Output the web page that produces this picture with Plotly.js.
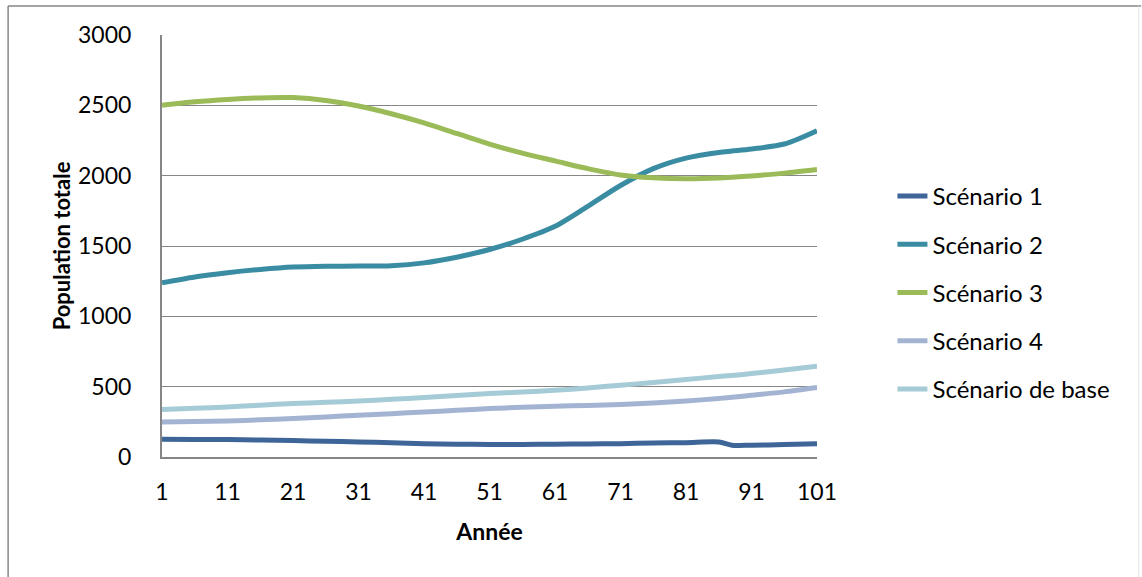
<!DOCTYPE html>
<html>
<head>
<meta charset="utf-8">
<script src="https://cdn.plot.ly/plotly-3.0.1.min.js"></script>
<style>
  html, body { margin: 0; padding: 0; background: #ffffff; }
  #chart { width: 1142px; height: 577px; }
</style>
</head>
<body>
<div id="chart"></div>
<script>
// Années de simulation (points de la courbe lissée)
const annees = [1, 6, 11, 16, 21, 26, 31, 36, 41, 46, 51, 56, 61, 66, 71, 76, 81, 86, 88, 91, 96, 101];

// Population totale par scénario
const scenario1 = [126, 125, 124, 121, 117, 112, 107, 101, 95, 91, 89, 89, 91, 93, 95, 99, 102, 107, 84, 84, 88, 94];
const scenario2 = [1238, 1280, 1310, 1333, 1350, 1356, 1357, 1360, 1380, 1420, 1475, 1548, 1640, 1782, 1930, 2050, 2125, 2165, 2175, 2190, 2225, 2320];
const scenario3 = [2500, 2525, 2542, 2553, 2555, 2535, 2495, 2440, 2375, 2300, 2225, 2160, 2105, 2050, 2005, 1985, 1978, 1983, 1988, 1998, 2018, 2044];
const scenario4 = [249, 252, 256, 264, 273, 285, 297, 308, 320, 332, 344, 353, 361, 367, 373, 384, 398, 416, 424, 439, 463, 494];
const scenarioBase = [337, 346, 356, 368, 380, 389, 398, 410, 423, 437, 451, 462, 474, 491, 510, 530, 551, 572, 580, 593, 618, 645];

const nomsSeries = ["Scénario 1", "Scénario 2", "Scénario 3", "Scénario 4", "Scénario de base"];
const valeursSeries = [scenario1, scenario2, scenario3, scenario4, scenarioBase];
const couleurs = ["#3D6598", "#3A8CA3", "#9BBB59", "#A3B4D3", "#A5CBD6"];

// Graduations
const tickAnnees = [1, 11, 21, 31, 41, 51, 61, 71, 81, 91, 101];
const tickPopulation = [0, 500, 1000, 1500, 2000, 2500, 3000];

const police = "Lato, 'Open Sans', sans-serif";
const gris = "#868686";

const traces = nomsSeries.map((nom, i) => ({
  type: "scatter",
  mode: "lines",
  name: nom,
  legendgroup: "g" + i,
  x: annees,
  y: valeursSeries[i],
  line: { color: couleurs[i], width: 5, shape: "spline", smoothing: 0.8 },
  hoverinfo: "x+y+name"
}));

// Conversion pixel -> coordonnées "paper" pour le cadre extérieur
const plotL = 162, plotR = 817.5, plotT = 35, plotB = 457;
const px = v => (v - plotL) / (plotR - plotL);
const py = v => (plotB - v) / (plotB - plotT);

const layout = {
  width: 1142,
  height: 577,
  paper_bgcolor: "#ffffff",
  plot_bgcolor: "#ffffff",
  margin: { l: plotL, r: 1142 - plotR, t: plotT, b: 577 - plotB, pad: 0 },
  font: { family: police, size: 23, color: "#000000" },
  showlegend: true,
  legend: {
    x: px(893),
    xanchor: "left",
    y: py(174),
    yanchor: "top",
    traceorder: "grouped",
    tracegroupgap: 14,
    font: { family: police, size: 24, color: "#000000" },
    bgcolor: "rgba(0,0,0,0)",
    borderwidth: 0
  },
  xaxis: {
    range: [1, 101],
    tickmode: "array",
    tickvals: tickAnnees,
    ticktext: tickAnnees.map(String),
    ticks: "",
    showgrid: false,
    zeroline: false,
    showline: true,
    linecolor: gris,
    linewidth: 2,
    ticklabelstandoff: 13,
    tickfont: { family: police, size: 23, color: "#000000" },
    title: {
      text: "Année",
      font: { family: police, size: 23, color: "#000000", weight: 700 },
      standoff: 20
    },
    automargin: false,
    fixedrange: true
  },
  yaxis: {
    range: [0, 3000],
    tickmode: "array",
    tickvals: tickPopulation,
    ticktext: tickPopulation.map(String),
    ticks: "",
    showgrid: true,
    gridcolor: gris,
    gridwidth: 1,
    zeroline: false,
    showline: true,
    linecolor: gris,
    linewidth: 2,
    ticklabelstandoff: 24,
    tickfont: { family: police, size: 23, color: "#000000" },
    title: {
      text: "Population totale",
      font: { family: police, size: 22, color: "#000000", weight: 700 },
      standoff: 1
    },
    automargin: false,
    fixedrange: true
  },
  shapes: [
    // cadre extérieur : bords gauche et haut marqués, bord droit discret
    {
      type: "line", xref: "paper", yref: "paper",
      x0: px(8), x1: px(8), y0: py(600), y1: py(6),
      line: { color: gris, width: 1.5 }, layer: "below"
    },
    {
      type: "line", xref: "paper", yref: "paper",
      x0: px(8), x1: px(1142), y0: py(6), y1: py(6),
      line: { color: gris, width: 1.5 }, layer: "below"
    },
    {
      type: "line", xref: "paper", yref: "paper",
      x0: px(1139.5), x1: px(1139.5), y0: py(600), y1: py(6),
      line: { color: "#e2e2e2", width: 1 }, layer: "below"
    }
  ]
};

Plotly.newPlot("chart", traces, layout, { displayModeBar: false, staticPlot: true });
</script>
</body>
</html>
